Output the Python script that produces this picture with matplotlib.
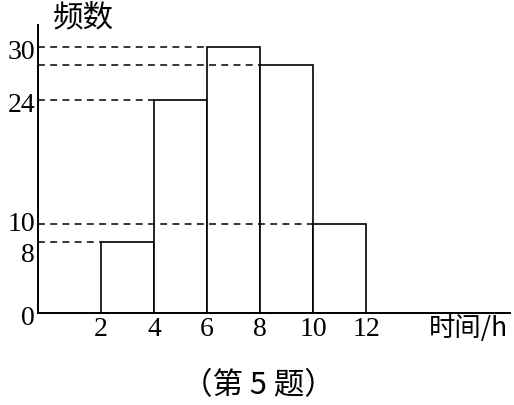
import matplotlib
matplotlib.use("Agg")
import matplotlib.pyplot as plt
from matplotlib.transforms import ScaledTranslation

# data
bin_edges = [2, 4, 6, 8, 10, 12]
counts = [8, 24, 30, 28, 10]
y_tick_values = [0, 8, 10, 24, 30]
y_tick_labels = ["0", "8", "10", "24", "30"]
x_tick_values = [2, 4, 6, 8, 10, 12]
x_tick_labels = ["2", "4", "6", "8", "10", "12"]

W, H = 514, 405
fig = plt.figure(figsize=(W / 100, H / 100), dpi=100)
ax_left, ax_right = 38, 510
ax_top, ax_bottom = 25, 313
ax = fig.add_axes([ax_left / W, (H - ax_bottom) / H,
                   (ax_right - ax_left) / W, (ax_bottom - ax_top) / H])

xmin, xmax = -0.377, 17.43
ymin, ymax = 0, 32.48
ax.set_xlim(xmin, xmax)
ax.set_ylim(ymin, ymax)

lw = 1.2
for i, c in enumerate(counts):
    left, right = bin_edges[i], bin_edges[i + 1]
    ax.bar(left, c, width=right - left, align="edge", facecolor="white",
           edgecolor="black", linewidth=lw, zorder=2)
for i, c in enumerate(counts):
    left = bin_edges[i]
    ax.plot([xmin, left], [c, c], color="black", linewidth=1.1,
            dashes=(4.5, 3.5), zorder=4, clip_on=False)

for s in ["top", "right"]:
    ax.spines[s].set_visible(False)
for s in ["left", "bottom"]:
    ax.spines[s].set_linewidth(1.4)
    ax.spines[s].set_zorder(5)

serif = "Liberation Serif"
ax.set_xticks(x_tick_values)
ax.set_xticklabels(x_tick_labels, fontfamily=serif, fontsize=20)
ax.set_yticks(y_tick_values)
ax.set_yticklabels(y_tick_labels, fontfamily=serif, fontsize=20)
ax.tick_params(axis="x", length=0, pad=3)
ax.tick_params(axis="y", length=0, pad=2)

for lab in ax.get_yticklabels():
    t = lab.get_text()
    if t == "8":
        lab.set_verticalalignment("top")
        lab.set_transform(lab.get_transform() + ScaledTranslation(0, -1 / 72, fig.dpi_scale_trans))
    elif t == "10":
        lab.set_verticalalignment("bottom")
        lab.set_transform(lab.get_transform() + ScaledTranslation(0, -9 / 72, fig.dpi_scale_trans))
    else:
        lab.set_transform(lab.get_transform() + ScaledTranslation(0, -2 / 72, fig.dpi_scale_trans))

cjk = ["Noto Sans CJK SC", "DejaVu Sans"]
fig.text(83 / W, 1 - 18 / H, "频数", fontfamily=cjk, fontsize=22,
         ha="center", va="center")
fig.text(508 / W, 1 - 328 / H, "时间/h", fontfamily=cjk, fontsize=19,
         ha="right", va="center")
fig.text(258 / W, 1 - 386 / H, "（第 5 题）", fontfamily=cjk, fontsize=22,
         ha="center", va="center")

fig.savefig("out.png", dpi=100, facecolor="white")
